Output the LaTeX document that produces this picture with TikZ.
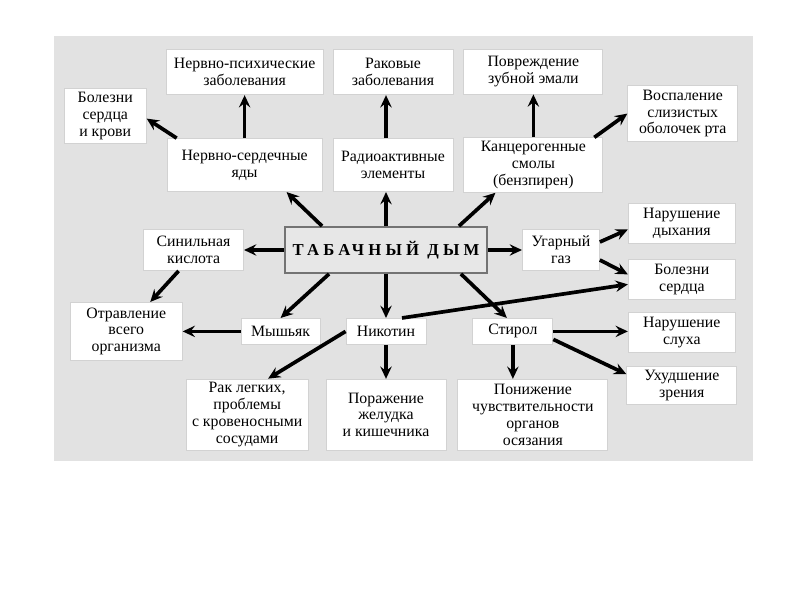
\documentclass[tikz,border=0pt]{standalone}
\usepackage{fontspec}
\setmainfont{Liberation Serif}
\newfontfamily\hubfont[LetterSpace=25]{Liberation Serif}
\usetikzlibrary{positioning,arrows.meta}
\definecolor{panelgray}{HTML}{E2E2E2}
\definecolor{hubgray}{HTML}{E7E7E7}
\tikzset{
->,
>={Stealth[length=7pt,width=6.5pt,inset=2.5pt]},
box/.style={draw=gray!35, line width=0.5pt, fill=white, align=center, inner sep=2pt, font=\fontsize{9}{9.6}\selectfont},
hub/.style={draw=gray!90!black, line width=1.1pt, fill=hubgray, font=\hubfont\bfseries\fontsize{9.5}{10}\selectfont},
dims/.style 2 args={minimum width=#1cm, minimum height=#2cm},
}

\begin{document}
\begin{tikzpicture}[line width=2.1pt]
    \useasboundingbox (0,0) rectangle (16,12);
    \fill[panelgray] (1.08,2.78) rectangle (15.06,11.28);

    \node[hub, dims={4.04}{0.92}] (smoke) at (7.72,7.0) {ТАБАЧНЫЙ ДЫМ};
    % upper rows
    \node[box, dims={2.4}{1.06}, above=0.68cm of smoke, xshift=0.14cm] (re) {Радиоактивные\\элементы};
    \node[box, dims={2.4}{0.9}, above=0.86cm of re] (rz) {Раковые\\заболевания};
    \node[box, dims={3.1}{1.06}, left=0.2cm of re] (ns) {Нервно-сердечные\\яды};
    \node[box, dims={3.14}{0.9}, above=0.86cm of ns] (np) {Нервно-психические\\заболевания};
    \node[box, dims={2.78}{1.06}, right=0.2cm of re] (ks) {Канцерогенные\\смолы\\(бензпирен)};
    \node[box, dims={2.78}{0.9}, above=0.86cm of ks] (pz) {Повреждение\\зубной эмали};
    \node[box, dims={1.64}{1.1}, left=0.4cm of ns, yshift=0.98cm] (bsk) {Болезни\\сердца\\и крови};
    \node[box, dims={2.2}{1.12}, right=0.48cm of ks, yshift=1.03cm] (vs) {Воспаление\\слизистых\\оболочек рта};
    % middle row
    \node[box, dims={2.0}{0.82}, left=0.8cm of smoke] (sk) {Синильная\\кислота};
    \node[box, dims={1.54}{0.82}, right=0.68cm of smoke] (ug) {Угарный\\газ};
    \node[box, dims={2.14}{0.8}, right=0.56cm of ug, yshift=0.53cm] (nd) {Нарушение\\дыхания};
    \node[box, dims={2.14}{0.8}, below=0.3cm of nd] (bs) {Болезни\\сердца};
    \node[box, dims={2.14}{0.8}, below=0.24cm of bs] (nsl) {Нарушение\\слуха};
    \node[box, dims={2.2}{0.76}, below=0.26cm of nsl] (uz) {Ухудшение\\зрения};
    % lower rows
    \node[box, dims={1.6}{0.52}, below=0.88cm of smoke] (ni) {Никотин};
    \node[box, dims={1.58}{0.52}, left=0.5cm of ni] (my) {Мышьяк};
    \node[box, dims={1.6}{0.52}, right=0.92cm of ni] (st) {Стирол};
    \node[box, dims={2.24}{1.16}, left=1.16cm of my] (ov) {Отравление\\всего\\организма};
    \node[box, dims={2.4}{1.42}, below=0.68cm of ni] (pzh) {Поражение\\желудка\\и кишечника};
    \node[box, dims={2.44}{1.42}, left=0.34cm of pzh] (rl) {Рак легких,\\проблемы\\с кровеносными\\сосудами};
    \node[box, dims={3.0}{1.42}, right=0.22cm of pzh] (pch) {Понижение\\чувствительности\\органов\\осязания};

    \draw (ns) edge (np);
    \draw ([xshift=0.2cm]ns.north west) -- ([yshift=-0.05cm]bsk.east);
    \draw ([xshift=0.76cm]smoke.north west) -- ([xshift=-0.72cm]ns.south east);
    \draw (smoke.north) -- (smoke.north |- re.south);
    \draw (smoke.north |- re.north) -- (smoke.north |- rz.south);
    \draw ([xshift=-0.58cm]smoke.north east) -- ([xshift=0.64cm]ks.south west);
    \draw (ks) edge (pz);
    \draw ([xshift=-0.18cm]ks.north east) -- (vs.west);
    \draw (smoke.west |- sk) -- (sk.east);
    \draw ([xshift=-0.3cm]sk.south) -- ([xshift=0.48cm]ov.north);
    \draw ([xshift=0.9cm]smoke.south west) -- (my.north);
    \draw (my) edge (ov);
    \draw (smoke) edge (ni);
    \draw ([xshift=-0.54cm]smoke.south east) -- ([xshift=-0.12cm]st.north);
    \draw (smoke) edge (ug);
    \draw ([yshift=0.16cm]ug.east) -- ([yshift=-0.12cm]nd.west);
    \draw ([yshift=-0.2cm]ug.east) -- ([yshift=0.1cm]bs.west);
    \draw ([xshift=0.32cm]ni.north) -- ([yshift=-0.1cm]bs.west);
    \draw (ni.west) -- ([xshift=0.42cm]rl.north);
    \draw (ni) edge (pzh);
    \draw (st.south) -- (st.south |- pch.north);
    \draw (st.east) -- (st.east -| nsl.west);
    \draw ([yshift=-0.16cm]st.east) -- ([yshift=0.22cm]uz.west);

\end{tikzpicture}
\end{document}
